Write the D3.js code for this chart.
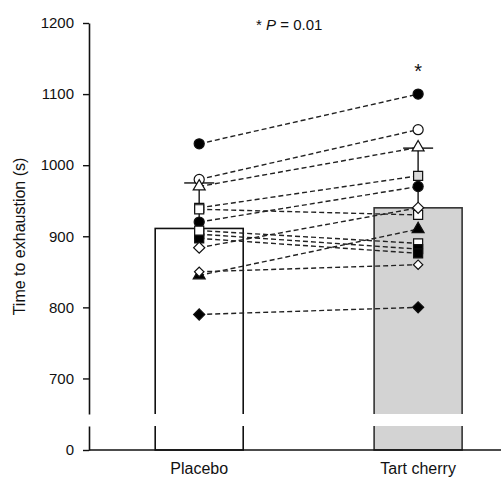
<!DOCTYPE html>
<html>
<head>
<meta charset="utf-8">
<script src="https://cdn.jsdelivr.net/npm/d3@7"></script>
<style>
  html, body { margin: 0; padding: 0; background: #fff; }
  svg { display: block; font-family: "Liberation Sans", Arial, sans-serif; }
</style>
</head>
<body>
<svg id="chart" width="501" height="477"></svg>
<script>
// ---- data ----
const conditions = ["Placebo", "Tart cherry"];
const barMeans = [911, 940];
const barSD = [64, 84];
const placeboValues = [1030, 980, 970, 940, 938, 920, 908, 903, 897, 884, 850, 845, 790];
const tartValues    = [1100, 1050, 1025, 985, 930, 970, 890, 882, 876, 940, 860, 910, 800];
const markerShapes  = ["circle","circle","triangle","square","square","circle","square","square","square","diamond","diamondSmall","triangle","diamond"];
const markerFills   = ["black","white","white","#d9d9d9","white","black","white","black","black","white","white","black","black"];
const yTicks = [700, 800, 900, 1000, 1100, 1200];
const yLowTicks = [0];
const pText = "0.01";

// ---- layout ----
const svg = d3.select("#chart");
const axisX = 89, rightX = 501;
const yUp = d3.scaleLinear().domain([650, 1200]).range([414, 23]);
const yLow = d3.scaleLinear().domain([0, 650]).range([450, 426]);
const x = d3.scaleBand().domain(conditions).range([axisX, rightX])
  .paddingInner(0.598).paddingOuter(0.24).align(0.63);
const cx = d => x(d) + x.bandwidth() / 2;

// bars
const barFill = ["#ffffff", "#d3d3d3"];
const barStroke = ["#111", "#333"];
svg.selectAll("rect.bar").data(conditions).join("rect")
  .attr("class", "bar")
  .attr("x", d => x(d))
  .attr("width", x.bandwidth())
  .attr("y", (d, i) => yUp(barMeans[i]))
  .attr("height", (d, i) => yLow(0) - yUp(barMeans[i]))
  .attr("fill", (d, i) => barFill[i])
  .attr("stroke", (d, i) => barStroke[i])
  .attr("stroke-width", 1.6);

// axes
const fmt = d3.format("d");
const gUp = svg.append("g").attr("transform", `translate(${axisX},0)`)
  .call(d3.axisLeft(yUp).tickValues(yTicks).tickFormat(fmt).tickSize(6).tickSizeOuter(0).tickPadding(9));
const gLow = svg.append("g").attr("transform", `translate(${axisX},0)`)
  .call(d3.axisLeft(yLow).tickValues(yLowTicks).tickFormat(fmt).tickSize(6).tickSizeOuter(0).tickPadding(9));
[gUp, gLow].forEach(g => {
  g.select(".domain").attr("stroke", "#111").attr("stroke-width", 1.6);
  g.selectAll(".tick line").attr("stroke", "#111").attr("stroke-width", 1.4);
  g.selectAll(".tick text").attr("font-size", 15).attr("fill", "#111")
    .attr("font-family", "'Liberation Sans', Arial, sans-serif");
});

// x axis line
svg.append("line").attr("x1", axisX).attr("x2", rightX)
  .attr("y1", yLow(0)).attr("y2", yLow(0))
  .attr("stroke", "#111").attr("stroke-width", 1.6);

// break band across bars (axis already has its own gap)
svg.append("rect").attr("x", axisX + 2).attr("width", rightX - axisX - 2)
  .attr("y", yUp(650)).attr("height", yLow(650) - yUp(650)).attr("fill", "#fff");

// x labels
svg.selectAll("text.xl").data(conditions).join("text")
  .attr("class", "xl")
  .attr("x", d => cx(d)).attr("y", 474)
  .attr("text-anchor", "middle").attr("font-size", 16).attr("fill", "#111")
  .text(d => d);

// y label
svg.append("text")
  .attr("transform", `translate(25,${(yUp(1200) + yLow(0)) / 2}) rotate(-90)`)
  .attr("text-anchor", "middle").attr("font-size", 16).attr("fill", "#111")
  .text("Time to exhaustion (s)");

// error bars
conditions.forEach((c, i) => {
  const xc = cx(c);
  svg.append("line").attr("x1", xc).attr("x2", xc)
    .attr("y1", yUp(barMeans[i])).attr("y2", yUp(barMeans[i] + barSD[i]))
    .attr("stroke", "#333").attr("stroke-width", 1.6);
  svg.append("line").attr("x1", xc - 15).attr("x2", xc + 15)
    .attr("y1", yUp(barMeans[i] + barSD[i])).attr("y2", yUp(barMeans[i] + barSD[i]))
    .attr("stroke", "#111").attr("stroke-width", 1.4);
});

// dashed lines
const xP = cx(conditions[0]), xT = cx(conditions[1]);
svg.selectAll("line.subj").data(placeboValues).join("line")
  .attr("class", "subj")
  .attr("x1", xP).attr("x2", xT)
  .attr("y1", d => yUp(d)).attr("y2", (d, i) => yUp(tartValues[i]))
  .attr("stroke", "#222").attr("stroke-width", 1.4).attr("stroke-dasharray", "5,3");

// markers
function symPath(shape) {
  if (shape === "circle") return d3.symbol(d3.symbolCircle, 80)();
  if (shape === "square") return d3.symbol(d3.symbolSquare, 82)();
  if (shape === "triangle") return d3.symbol(d3.symbolTriangle, 62)();
  if (shape === "diamond") return d3.symbol(d3.symbolSquare, 62)();
  if (shape === "diamondSmall") return d3.symbol(d3.symbolSquare, 44)();
}
function rot(shape) { return shape.startsWith("diamond") ? " rotate(45)" : ""; }
const idx = d3.range(placeboValues.length);
// placebo column: filled markers underneath, open markers on top
const placeboOrder = idx.filter(i => markerFills[i] === "black").concat(idx.filter(i => markerFills[i] !== "black"));
[[xP, placeboValues, placeboOrder], [xT, tartValues, idx]].forEach(([xx, vals, ord]) => {
  svg.append("g").selectAll("path").data(ord).join("path")
    .attr("d", i => symPath(markerShapes[i]))
    .attr("transform", i => `translate(${xx},${yUp(vals[i])})` + rot(markerShapes[i]))
    .attr("fill", i => markerFills[i])
    .attr("stroke", "#111").attr("stroke-width", 1.2);
});

// significance annotations
const pt = svg.append("text").attr("x", 256).attr("y", 30).attr("font-size", 15).attr("fill", "#111");
pt.append("tspan").text("* ");
pt.append("tspan").attr("font-style", "italic").text("P");
pt.append("tspan").text(" = " + pText);
svg.append("text").attr("x", xT).attr("y", 78).attr("text-anchor", "middle")
  .attr("font-size", 20).attr("fill", "#111").text("*");
</script>
</body>
</html>
